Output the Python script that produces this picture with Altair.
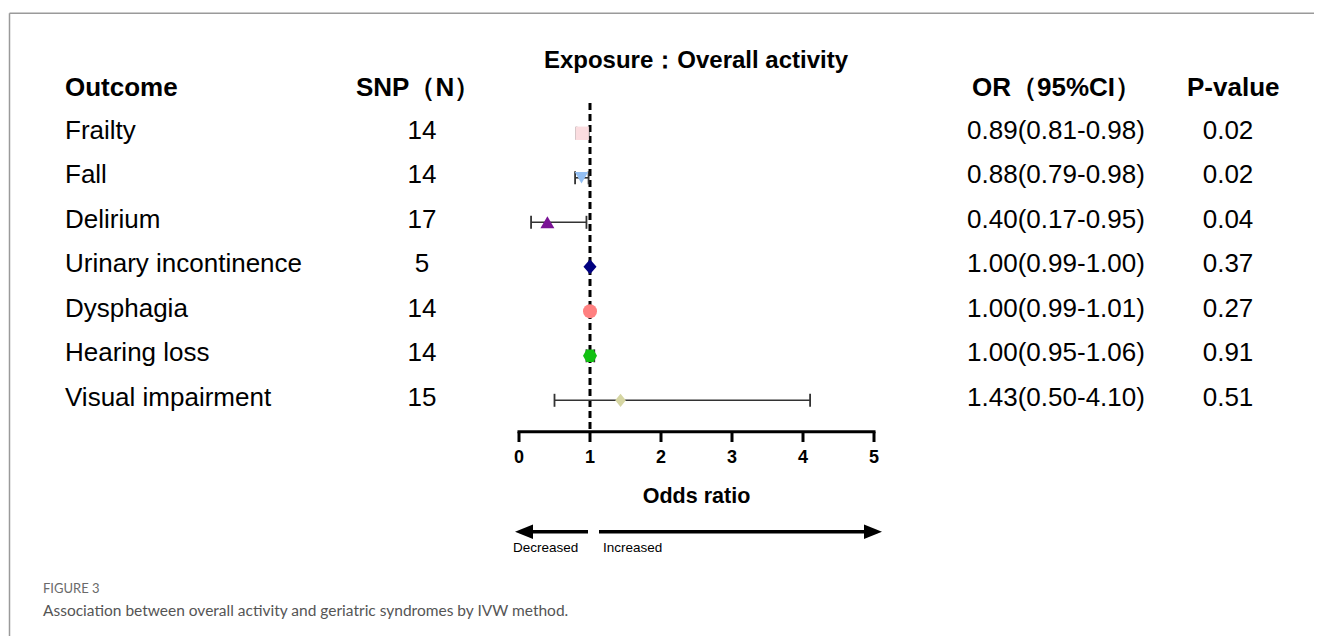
import altair as alt
import pandas as pd

# ---------------- data ----------------
outcomes = ["Frailty", "Fall", "Delirium", "Urinary incontinence",
            "Dysphagia", "Hearing loss", "Visual impairment"]
snp_n = [14, 14, 17, 5, 14, 14, 15]
or_vals = [0.89, 0.88, 0.40, 1.00, 1.00, 1.00, 1.43]
ci_low = [0.81, 0.79, 0.17, 0.99, 0.99, 0.95, 0.50]
ci_high = [0.98, 0.98, 0.95, 1.00, 1.01, 1.06, 4.10]
or_text = ["0.89(0.81-0.98)", "0.88(0.79-0.98)", "0.40(0.17-0.95)",
           "1.00(0.99-1.00)", "1.00(0.99-1.01)", "1.00(0.95-1.06)",
           "1.43(0.50-4.10)"]
p_values = ["0.02", "0.02", "0.04", "0.37", "0.27", "0.91", "0.51"]
tick_values = [0, 1, 2, 3, 4, 5]
tick_labels = ["0", "1", "2", "3", "4", "5"]
null_or = [1]

marker_shapes = [
    "square", "triangle-down", "triangle-up",
    "M0,-1L0.87,0L0,1L-0.87,0Z",
    "circle",
    "M-1,0L-0.5,-0.9L0.5,-0.9L1,0L0.5,0.9L-0.5,0.9Z",
    "M0,-1L0.8,0L0,1L-0.8,0Z",
]
marker_colors = ["#FBDDE0", "#93BFF3", "#7A1395", "#000080",
                 "#FF8080", "#12C012", "#D6D6A3"]
marker_sizes = [180, 180, 196, 225, 196, 196, 177]

df = pd.DataFrame({
    "outcome": outcomes,
    "row": list(range(len(outcomes))),
    "snp": snp_n,
    "or": or_vals,
    "lo": ci_low,
    "hi": ci_high,
    "or_text": or_text,
    "p": p_values,
    "msize": marker_sizes,
})
ticks_df = pd.DataFrame({"t": tick_values, "lab": tick_labels})
axis_df = pd.DataFrame({"a": [min(tick_values)], "b": [max(tick_values)]})
ref_df = pd.DataFrame({"x": null_or})
one = pd.DataFrame({"k": [0]})

W, H = 1306, 628
FONT = "Liberation Sans"

xscale = alt.Scale(domain=[-511 / 71, (W - 511) / 71], nice=False, zero=False)
y0 = -125.3 / 44.5
yscale = alt.Scale(domain=[y0, y0 + H / 44.5], reverse=True, nice=False, zero=False)


def X(f):
    return alt.X(f, type="quantitative", scale=xscale, axis=None)


Y = alt.Y("row:Q", scale=yscale, axis=None)

base = alt.Chart(df)

# frame lines
frame_top = alt.Chart(one).mark_rule(color="#9a9a9a", strokeWidth=1.5).encode(
    x=alt.value(1.5), x2=alt.value(W + 8), y=alt.value(5.3))
frame_left = alt.Chart(one).mark_rule(color="#9a9a9a", strokeWidth=1.5).encode(
    x=alt.value(1.5), y=alt.value(5.3), y2=alt.value(H + 8))

# dashed reference line at OR = 1
ref = alt.Chart(ref_df).mark_rule(color="black", strokeWidth=3, strokeDash=[7, 4]).encode(
    x=X("x"), y=alt.value(95), y2=alt.value(424))

# error bars
err = base.mark_rule(color="#333333", strokeWidth=1.6).encode(
    x=X("lo"), x2="hi", y=Y)
cap_lo = base.mark_point(shape="M0,-1L0,1", size=169, stroke="#333333",
                         strokeWidth=1.8, opacity=1).encode(x=X("lo"), y=Y)
cap_hi = base.mark_point(shape="M0,-1L0,1", size=169, stroke="#333333",
                         strokeWidth=1.8, opacity=1).encode(x=X("hi"), y=Y)

# markers
pts = base.mark_point(filled=True, opacity=1).encode(
    x=X("or"), y=Y,
    shape=alt.Shape("outcome:N", scale=alt.Scale(domain=outcomes, range=marker_shapes), legend=None),
    color=alt.Color("outcome:N", scale=alt.Scale(domain=outcomes, range=marker_colors), legend=None),
    size=alt.Size("msize:Q", scale=None, legend=None),
)

# x axis drawn manually
axis_line = alt.Chart(axis_df).mark_rule(color="black", strokeWidth=3, strokeCap="square").encode(
    x=X("a"), x2="b", y=alt.value(423.7))
axis_ticks = alt.Chart(ticks_df).mark_rule(color="black", strokeWidth=3).encode(
    x=X("t"), y=alt.value(423.7), y2=alt.value(434))
axis_labels = alt.Chart(ticks_df).mark_text(font=FONT, fontSize=18, fontWeight="bold",
                                            baseline="middle", align="center").encode(
    x=X("t"), y=alt.value(450), text="lab:N")
axis_title = alt.Chart(one).mark_text(text="Odds ratio", font=FONT, fontSize=21.5,
                                      fontWeight="bold", baseline="middle", align="center").encode(
    x=alt.value(688.5), y=alt.value(489))

# arrows
arr_left = alt.Chart(one).mark_rule(color="black", strokeWidth=3.5).encode(
    x=alt.value(515), x2=alt.value(580), y=alt.value(523.7))
arr_right = alt.Chart(one).mark_rule(color="black", strokeWidth=3.5).encode(
    x=alt.value(591), x2=alt.value(866), y=alt.value(523.7))
head_left = alt.Chart(one).mark_point(shape="M-1,0L1,-0.8L1,0.8Z", size=324, filled=True,
                                      color="black", opacity=1).encode(
    x=alt.value(516), y=alt.value(523.7))
head_right = alt.Chart(one).mark_point(shape="M1,0L-1,-0.8L-1,0.8Z", size=324, filled=True,
                                       color="black", opacity=1).encode(
    x=alt.value(865), y=alt.value(523.7))
dec_text = alt.Chart(one).mark_text(text="Decreased", font=FONT, fontSize=13.5,
                                    align="left", baseline="middle").encode(
    x=alt.value(505), y=alt.value(540))
inc_text = alt.Chart(one).mark_text(text="Increased", font=FONT, fontSize=13.5,
                                    align="left", baseline="middle").encode(
    x=alt.value(595), y=alt.value(540))

# table text
row_font = dict(font=FONT, fontSize=26, baseline="middle", dy=-2.5, color="black")
t_out = base.mark_text(align="left", **row_font).encode(x=alt.value(57), y=Y, text="outcome:N")
t_snp = base.mark_text(align="center", **row_font).encode(x=alt.value(414), y=Y, text="snp:Q")
t_or = base.mark_text(align="center", **row_font).encode(x=alt.value(1048), y=Y, text="or_text:N")
t_p = base.mark_text(align="center", **row_font).encode(x=alt.value(1220), y=Y, text="p:N")

hdr = dict(font=FONT, fontSize=26, fontWeight="bold", baseline="middle", align="left", color="black")
h_out = alt.Chart(one).mark_text(text="Outcome", **hdr).encode(x=alt.value(57), y=alt.value(80))
h_snp = alt.Chart(one).mark_text(text="SNP（N）", **hdr).encode(x=alt.value(348), y=alt.value(80))
h_or = alt.Chart(one).mark_text(text="OR（95%CI）", **hdr).encode(x=alt.value(964), y=alt.value(80))
h_p = alt.Chart(one).mark_text(text="P-value", **hdr).encode(x=alt.value(1179), y=alt.value(80))
title = alt.Chart(one).mark_text(text="Exposure：Overall activity", font=FONT, fontSize=24,
                                 fontWeight="bold", baseline="middle", align="center").encode(
    x=alt.value(688), y=alt.value(53))

# caption
cap1 = alt.Chart(one).mark_text(text="FIGURE 3", font="Lato", fontSize=13,
                                color="#6a6a6a", align="left", baseline="middle").encode(
    x=alt.value(35), y=alt.value(581))
cap2 = alt.Chart(one).mark_text(text="Association between overall activity and geriatric syndromes by IVW method.",
                                font="Lato", fontSize=15.5, color="#555555",
                                align="left", baseline="alphabetic").encode(
    x=alt.value(35), y=alt.value(608))

chart = alt.layer(
    frame_top, frame_left, ref, err, cap_lo, cap_hi, pts,
    axis_line, axis_ticks, axis_labels, axis_title,
    arr_left, arr_right, head_left, head_right, dec_text, inc_text,
    t_out, t_snp, t_or, t_p, h_out, h_snp, h_or, h_p, title, cap1, cap2,
).properties(
    width=W, height=H, padding=0, autosize="none", background="white"
).configure_view(stroke=None)

chart.save("out.html", embed_options={"renderer": "svg", "actions": False})
